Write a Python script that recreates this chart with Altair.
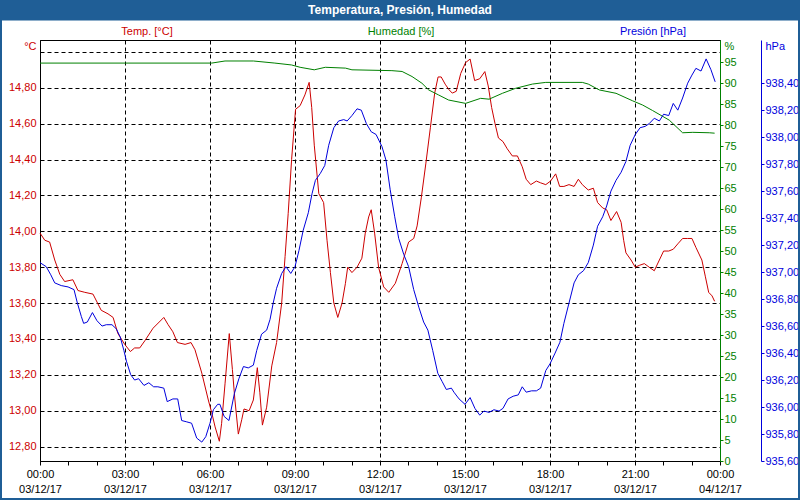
import altair as alt
import pandas as pd

# ---------------- data ----------------
temp_hours = [
    0.00, 0.17, 0.34, 0.52, 0.70, 0.87, 1.16, 1.34, 1.58, 1.87,
    2.16, 2.40, 2.58, 2.75, 2.99, 3.19, 3.34, 3.52, 3.70, 3.99,
    4.37, 4.52, 4.69, 4.85, 5.12, 5.33, 5.47, 5.71, 5.94, 6.06,
    6.18, 6.33, 6.41, 6.53, 6.68, 6.79, 6.88, 7.00, 7.12, 7.20,
    7.38, 7.53, 7.67, 7.76, 7.85, 8.00, 8.18, 8.35, 8.53, 8.65,
    8.76, 8.88, 9.02, 9.18, 9.35, 9.50, 9.59, 9.68, 9.84, 10.01,
    10.13, 10.25, 10.37, 10.51, 10.66, 10.78, 10.86, 11.01, 11.19, 11.36,
    11.48, 11.60, 11.69, 11.81, 11.95, 12.13, 12.31, 12.54, 12.78, 13.01,
    13.19, 13.31, 13.46, 13.62, 13.78, 13.93, 14.05, 14.16, 14.30, 14.43,
    14.55, 14.69, 14.85, 15.02, 15.18, 15.34, 15.52, 15.70, 15.82, 15.94,
    16.06, 16.18, 16.34, 16.49, 16.67, 16.85, 17.02, 17.16, 17.32, 17.52,
    17.67, 17.85, 18.02, 18.20, 18.34, 18.49, 18.67, 18.85, 19.00, 19.14,
    19.35, 19.53, 19.68, 19.86, 20.00, 20.15, 20.35, 20.51, 20.60, 20.68,
    20.86, 21.01, 21.15, 21.33, 21.50, 21.68, 21.86, 22.01, 22.19, 22.35,
    22.51, 22.68, 22.86, 23.01, 23.15, 23.36, 23.48, 23.60, 23.72, 23.81,
]
temp_values = [
    13.99, 13.95, 13.94, 13.84, 13.76, 13.72, 13.73, 13.67, 13.66, 13.65,
    13.56, 13.54, 13.52, 13.43, 13.37, 13.33, 13.35, 13.35, 13.39, 13.46,
    13.52, 13.48, 13.44, 13.38, 13.37, 13.38, 13.34, 13.21, 13.06, 12.99,
    12.91, 12.83, 12.93, 13.15, 13.43, 13.23, 13.06, 12.87, 12.95, 13.01,
    13.00, 13.06, 13.24, 13.10, 12.92, 13.02, 13.25, 13.38, 13.60, 13.86,
    14.10, 14.40, 14.68, 14.70, 14.76, 14.83, 14.69, 14.48, 14.21, 14.16,
    13.95, 13.77, 13.60, 13.52, 13.60, 13.71, 13.80, 13.77, 13.80, 13.85,
    13.99, 14.08, 14.12, 13.99, 13.80, 13.69, 13.66, 13.71, 13.82, 13.94,
    13.96, 14.03, 14.19, 14.38, 14.58, 14.77, 14.86, 14.86, 14.82, 14.79,
    14.77, 14.78, 14.88, 14.94, 14.96, 14.84, 14.85, 14.89, 14.81, 14.69,
    14.60, 14.52, 14.50, 14.46, 14.42, 14.42, 14.36, 14.29, 14.26, 14.28,
    14.27, 14.26, 14.28, 14.32, 14.25, 14.25, 14.26, 14.25, 14.29, 14.26,
    14.23, 14.24, 14.16, 14.13, 14.12, 14.06, 14.11, 14.05, 13.95, 13.88,
    13.84, 13.80, 13.81, 13.82, 13.80, 13.78, 13.84, 13.89, 13.89, 13.90,
    13.93, 13.96, 13.96, 13.96, 13.91, 13.84, 13.75, 13.66, 13.64, 13.61,
]

pres_hours = [
    0.00, 0.22, 0.38, 0.52, 0.75, 0.99, 1.20, 1.32, 1.46, 1.54,
    1.67, 1.85, 2.01, 2.19, 2.34, 2.54, 2.69, 2.83, 2.96, 3.05,
    3.20, 3.34, 3.48, 3.67, 3.84, 4.01, 4.16, 4.37, 4.49, 4.69,
    4.86, 5.00, 5.18, 5.35, 5.53, 5.71, 5.85, 6.00, 6.12, 6.27,
    6.35, 6.50, 6.67, 6.86, 7.02, 7.18, 7.35, 7.53, 7.65, 7.82,
    8.00, 8.12, 8.23, 8.35, 8.53, 8.68, 8.85, 9.00, 9.14, 9.29,
    9.47, 9.60, 9.72, 9.89, 10.05, 10.19, 10.37, 10.54, 10.72, 10.84,
    11.01, 11.19, 11.34, 11.52, 11.69, 11.86, 12.07, 12.21, 12.36, 12.52,
    12.66, 12.84, 13.01, 13.19, 13.37, 13.54, 13.69, 13.86, 14.04, 14.19,
    14.34, 14.52, 14.61, 14.79, 15.00, 15.18, 15.35, 15.52, 15.67, 15.85,
    16.02, 16.20, 16.34, 16.52, 16.70, 16.88, 17.02, 17.16, 17.35, 17.52,
    17.67, 17.85, 18.00, 18.18, 18.35, 18.49, 18.67, 18.85, 19.00, 19.18,
    19.35, 19.53, 19.68, 19.86, 20.00, 20.15, 20.33, 20.51, 20.68, 20.83,
    21.01, 21.18, 21.36, 21.50, 21.68, 21.86, 22.01, 22.19, 22.35, 22.51,
    22.68, 22.86, 23.01, 23.15, 23.33, 23.51, 23.68, 23.83,
]
pres_values = [
    937.07, 937.04, 936.98, 936.92, 936.90, 936.89, 936.87, 936.77, 936.67, 936.62,
    936.63, 936.70, 936.64, 936.60, 936.61, 936.61, 936.58, 936.52, 936.42, 936.34,
    936.24, 936.20, 936.21, 936.16, 936.18, 936.15, 936.15, 936.14, 936.04, 936.06,
    936.06, 935.90, 935.89, 935.88, 935.77, 935.74, 935.78, 935.88, 935.98, 936.02,
    936.02, 935.93, 935.90, 936.10, 936.21, 936.30, 936.29, 936.31, 936.42, 936.54,
    936.57, 936.65, 936.77, 936.88, 936.99, 937.04, 936.99, 937.04, 937.16, 937.31,
    937.44, 937.58, 937.68, 937.73, 937.79, 937.94, 938.07, 938.12, 938.13, 938.12,
    938.16, 938.21, 938.20, 938.10, 938.04, 938.02, 937.93, 937.83, 937.61, 937.41,
    937.25, 937.13, 937.04, 936.87, 936.74, 936.63, 936.57, 936.42, 936.25, 936.19,
    936.13, 936.14, 936.11, 936.06, 936.02, 936.07, 935.99, 935.94, 935.97, 935.96,
    935.98, 935.97, 935.99, 936.06, 936.08, 936.09, 936.15, 936.11, 936.12, 936.12,
    936.14, 936.27, 936.32, 936.40, 936.48, 936.62, 936.77, 936.92, 936.98, 937.01,
    937.07, 937.20, 937.34, 937.41, 937.49, 937.60, 937.68, 937.74, 937.82, 937.94,
    938.02, 938.07, 938.08, 938.10, 938.14, 938.12, 938.17, 938.16, 938.25, 938.20,
    938.29, 938.40, 938.46, 938.51, 938.49, 938.58, 938.50, 938.41,
]

hum_hours = [
    0.00, 6.06, 6.53, 7.53, 8.29, 8.88, 9.18, 9.68, 10.07, 10.78,
    11.01, 12.42, 12.78, 13.13, 13.48, 13.72, 14.07, 14.42, 15.02, 15.55,
    15.85, 16.32, 16.79, 17.38, 17.85, 19.14, 19.35, 19.74, 20.33, 20.92,
    21.27, 21.62, 22.21, 22.68, 23.04, 23.62, 23.81,
]
hum_values = [
    94.8, 94.8, 95.3, 95.3, 94.8, 94.35, 93.8, 93.2, 93.8, 93.6,
    93.2, 93.0, 92.8, 91.6, 90.0, 88.4, 87.2, 86.0, 85.2, 86.4,
    86.2, 87.6, 88.8, 89.8, 90.2, 90.2, 89.8, 88.4, 87.6, 85.8,
    84.8, 83.5, 81.2, 78.2, 78.3, 78.2, 78.1,
]

temp_ticks = [12.8, 13.0, 13.2, 13.4, 13.6, 13.8, 14.0, 14.2, 14.4, 14.6, 14.8, 15.0]
hum_ticks = [0, 5, 10, 15, 20, 25, 30, 35, 40, 45, 50, 55, 60, 65, 70, 75, 80, 85, 90, 95]
pres_ticks = [935.6, 935.8, 936.0, 936.2, 936.4, 936.6, 936.8, 937.0, 937.2, 937.4,
              937.6, 937.8, 938.0, 938.2, 938.4]

# ---------------- styling ----------------
RED = "#cc0000"
GREEN = "#008000"
BLUE = "#0000dd"
FRAME = "#1f5e96"
FONT = "Liberation Sans"

base = pd.Timestamp("2017-12-03 00:00:00")


def frame(hours, values, name):
    return pd.DataFrame({"t": [base + pd.Timedelta(hours=h) for h in hours], name: values})


temp_df = frame(temp_hours, temp_values, "temp")
pres_df = frame(pres_hours, pres_values, "pres")
hum_df = frame(hum_hours, hum_values, "hum")

x_ticks = [alt.DateTime(year=2017, month=12, date=3, hours=h) for h in range(24)]
x_ticks.append(alt.DateTime(year=2017, month=12, date=4, hours=0))

x_enc = alt.X(
    "t:T",
    title=None,
    scale=alt.Scale(domain=[alt.DateTime(year=2017, month=12, date=3, hours=0),
                            alt.DateTime(year=2017, month=12, date=4, hours=0)]),
    axis=alt.Axis(
        values=x_ticks,
        labelExpr="hours(datum.value) % 3 == 0 ? [timeFormat(datum.value, '%H:%M'), timeFormat(datum.value, '%d/%m/%y')] : ''",
        labelOverlap=False,
        labelFlush=False,
        labelColor="black",
        labelFont=FONT,
        labelFontSize=11,
        labelLineHeight=15,
        labelPadding=3,
        tickSize=4,
        tickColor="black",
        domainColor="black",
        grid=True,
        gridColor="black",
        gridDash=[4, 3],
        gridOpacity={"condition": {"test": "hours(datum.value) % 3 == 0", "value": 1}, "value": 0},
    ),
)

temp_line = alt.Chart(temp_df).mark_line(color=RED, strokeWidth=1).encode(
    x=x_enc,
    y=alt.Y(
        "temp:Q",
        scale=alt.Scale(domain=[12.72, 15.066], nice=False, zero=False),
        axis=alt.Axis(
            orient="left",
            values=temp_ticks,
            labelExpr="datum.value > 14.9 ? '' : replace(format(datum.value, '.2f'), '.', ',')",
            labelColor=RED,
            labelFont=FONT,
            labelFontSize=11,
            labelPadding=4,
            ticks=False,
            domainColor="black",
            grid=True,
            gridColor="black",
            gridDash=[4, 3],
            title="°C",
            titleAngle=0,
            titleAlign="right",
            titleBaseline="middle",
            titleX=-4,
            titleY=6,
            titleColor=RED,
            titleFont=FONT,
            titleFontSize=11,
            titleFontWeight="normal",
        ),
    ),
)

hum_line = alt.Chart(hum_df).mark_line(color=GREEN, strokeWidth=1).encode(
    x=x_enc,
    y=alt.Y(
        "hum:Q",
        scale=alt.Scale(domain=[0, 100.3], nice=False, zero=False),
        axis=alt.Axis(
            orient="right",
            values=hum_ticks,
            labelColor=GREEN,
            labelFont=FONT,
            labelFontSize=11,
            labelPadding=1,
            tickSize=3,
            tickColor=GREEN,
            domainColor=GREEN,
            grid=False,
            title="%",
            titleAngle=0,
            titleAlign="left",
            titleBaseline="middle",
            titleX=4,
            titleY=6,
            titleColor=GREEN,
            titleFont=FONT,
            titleFontSize=11,
            titleFontWeight="normal",
        ),
    ),
)

pres_line = alt.Chart(pres_df).mark_line(color=BLUE, strokeWidth=1).encode(
    x=x_enc,
    y=alt.Y(
        "pres:Q",
        scale=alt.Scale(domain=[935.6, 938.72], nice=False, zero=False),
        axis=alt.Axis(
            orient="right",
            offset=41,
            values=pres_ticks,
            labelExpr="replace(format(datum.value, '.2f'), '.', ',')",
            labelColor=BLUE,
            labelFont=FONT,
            labelFontSize=11,
            labelPadding=1,
            tickSize=3,
            tickColor=BLUE,
            domainColor=BLUE,
            grid=False,
            title="hPa",
            titleAngle=0,
            titleAlign="left",
            titleBaseline="middle",
            titleX=4,
            titleY=6,
            titleColor=BLUE,
            titleFont=FONT,
            titleFontSize=11,
            titleFontWeight="normal",
        ),
    ),
)

one = pd.DataFrame({"k": [0]})

title_bar = alt.Chart(one).mark_rect(color=FRAME).encode(
    x=alt.value(-40), x2=alt.value(760), y=alt.value(-40), y2=alt.value(-19.5)
)
border = alt.Chart(one).mark_rect(fillOpacity=0, stroke=FRAME, strokeWidth=2).encode(
    x=alt.value(-39), x2=alt.value(759), y=alt.value(-39), y2=alt.value(459)
)
title_text = alt.Chart(one).mark_text(
    text="Temperatura, Presión, Humedad", color="white", font=FONT, fontSize=12,
    fontWeight="bold", align="center", baseline="middle"
).encode(x=alt.value(360), y=alt.value(-30))

lab_temp = alt.Chart(one).mark_text(
    text="Temp. [°C]", color=RED, font=FONT, fontSize=11, align="center", baseline="middle"
).encode(x=alt.value(107), y=alt.value(-8))
lab_hum = alt.Chart(one).mark_text(
    text="Humedad [%]", color=GREEN, font=FONT, fontSize=11, align="center", baseline="middle"
).encode(x=alt.value(361), y=alt.value(-8))
lab_pres = alt.Chart(one).mark_text(
    text="Presión [hPa]", color=BLUE, font=FONT, fontSize=11, align="center", baseline="middle"
).encode(x=alt.value(613), y=alt.value(-8))

chart = (
    alt.layer(title_bar, border, temp_line, hum_line, pres_line,
              title_text, lab_temp, lab_hum, lab_pres)
    .resolve_scale(y="independent")
    .properties(
        width=680,
        height=421,
        autosize=alt.AutoSizeParams(type="none"),
        padding={"left": 40, "top": 40, "right": 80, "bottom": 39},
        background="white",
    )
    .configure_view(stroke="black", strokeWidth=1)
)

chart.save("out.html", embed_options={"renderer": "svg", "actions": False})
